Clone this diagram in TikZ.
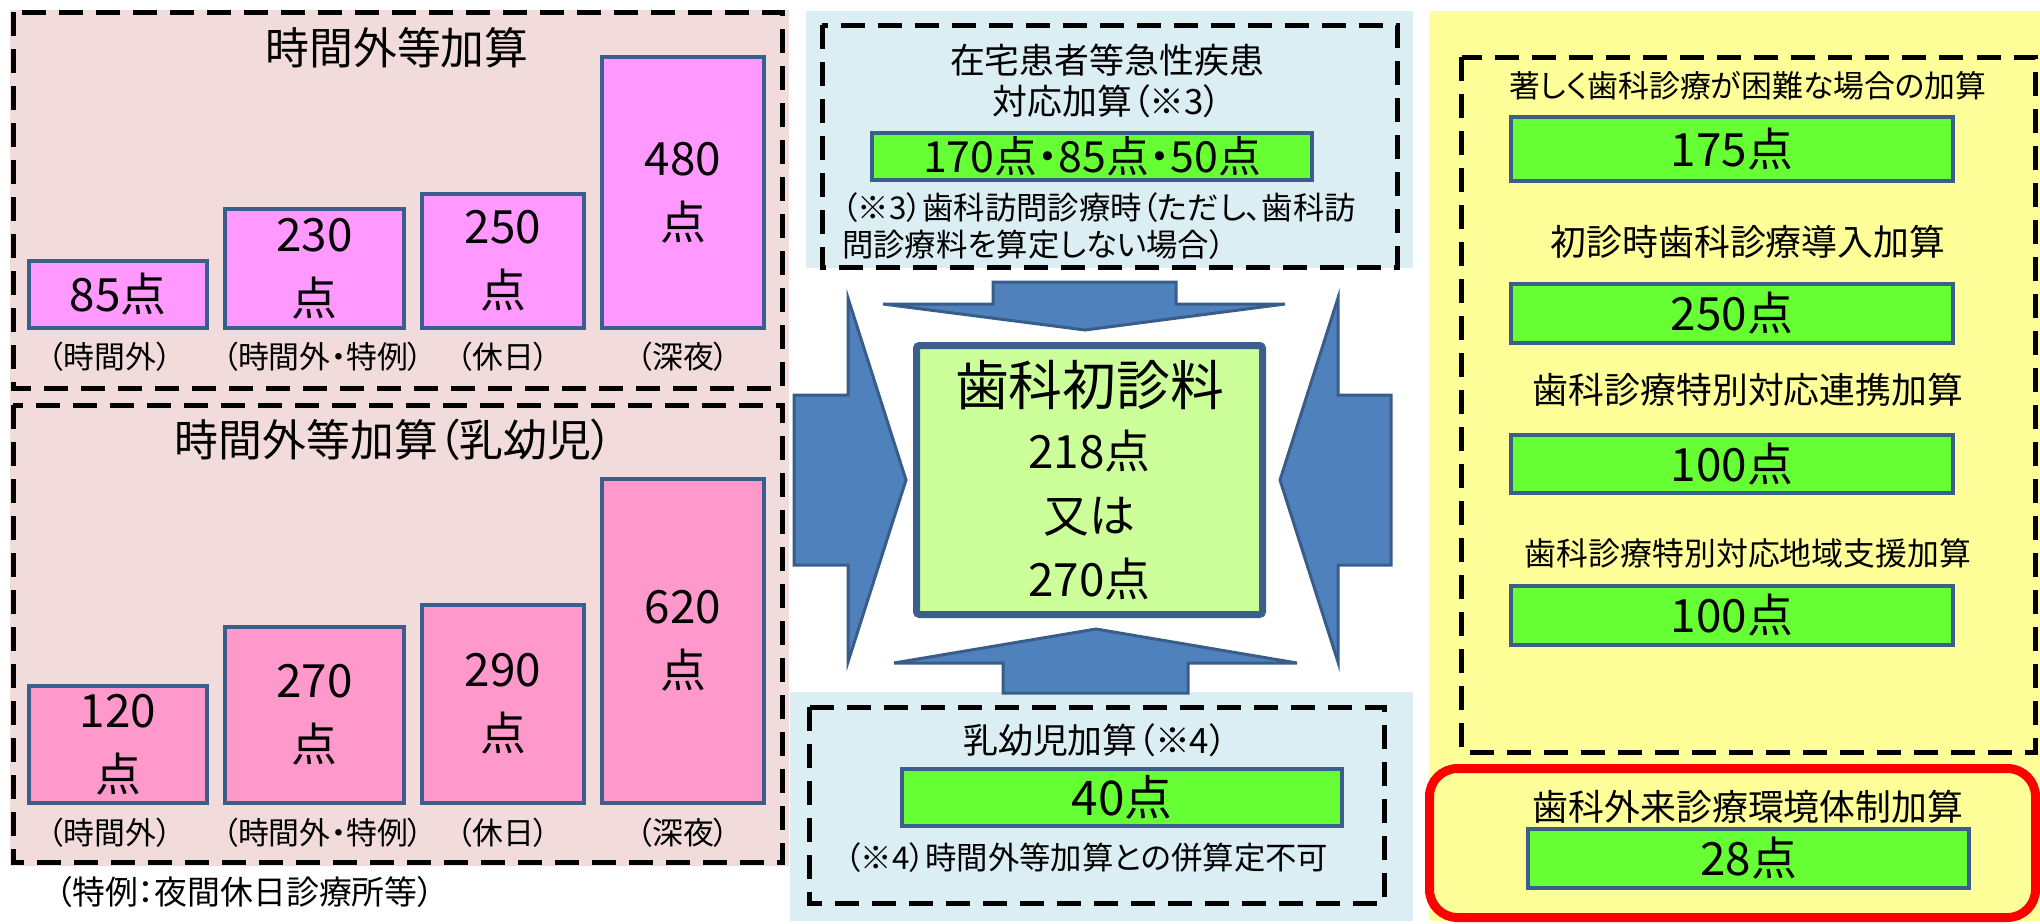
\documentclass[tikz,border=0pt]{standalone}
\usepackage{fontspec}
\setmainfont{Noto Sans CJK JP}[RawFeature=+palt]
\definecolor{pinkbg}{HTML}{F2DCDB}
\definecolor{pinkA}{HTML}{FF99FF}
\definecolor{pinkB}{HTML}{FF99CC}
\definecolor{bbord}{HTML}{3B5E8C}
\definecolor{lblue}{HTML}{DBEEF4}
\definecolor{lyellow}{HTML}{FFFF99}
\definecolor{vgreen}{HTML}{66FF33}
\definecolor{lgreen}{HTML}{CCFF99}
\definecolor{arrfill}{HTML}{4F81BD}
\definecolor{arrbord}{HTML}{385D8A}
\begin{document}
\begin{tikzpicture}[x=1bp,y=-1bp,
  dashbox/.style={draw=black, line width=5bp, dash pattern=on 24bp off 13bp},
  bar/.style={draw=bbord, line width=4.5bp, align=center, inner sep=0pt, font=\fontsize{46}{64}\selectfont},
  barA/.style={bar, fill=pinkA},
  barB/.style={bar, fill=pinkB},
  gbox/.style={draw=bbord, line width=4.5bp, fill=vgreen, inner sep=0pt, font=\fontsize{46}{56}\selectfont},
  lbl/.style={inner sep=0pt, font=\fontsize{31}{36}\selectfont},
  ttl/.style={inner sep=0pt, font=\fontsize{44}{52}\selectfont},
  mid/.style={inner sep=0pt, font=\fontsize{35}{42}\selectfont, align=center},
  rt/.style={inner sep=0pt, font=\fontsize{36}{42}\selectfont},
  note/.style={inner sep=0pt, font=\fontsize{31.5}{37}\selectfont, align=left, anchor=west},
  blockarrow/.style={fill=arrfill, draw=arrbord, line width=3bp, line join=miter}
]
\useasboundingbox (0,0) rectangle (2040,924);
% backgrounds
\fill[pinkbg] (10,10) rectangle (789,866);
\fill[lblue] (806,11) rectangle (1413,268);
\fill[lblue] (790,692) rectangle (1413,921);
\fill[lyellow] (1429,11) rectangle (2040,921);

% left panels
\draw[dashbox] (13,12) rectangle (782,388);
\draw[dashbox] (13,405) rectangle (782,862);
\node[ttl] (t1) at (397,48) {時間外等加算};
\node[ttl] (t2) at (394,440) {時間外等加算（乳幼児）};

\node[barA, minimum width=178bp, minimum height=67bp] (a1) at (118,294.5) {85点};
\node[barA, minimum width=179bp, minimum height=119bp] (a2) at (314.5,268.5) {230\\点};
\node[barA, minimum width=162bp, minimum height=134bp] (a3) at (503,261) {250\\点};
\node[barA, minimum width=162bp, minimum height=271bp] (a4) at (683,192.5) {480\\点};
\node[lbl] (la1) at (110,357) {（時間外）};
\node[lbl] (la2) at (323,357) {（時間外・特例）};
\node[lbl] (la3) at (503,357) {（休日）};
\node[lbl] (la4) at (683,357) {（深夜）};

\node[barB, minimum width=178bp, minimum height=117bp] (b1) at (118,744.5) {120\\点};
\node[barB, minimum width=179bp, minimum height=176bp] (b2) at (314.5,715) {270\\点};
\node[barB, minimum width=162bp, minimum height=198bp] (b3) at (503,704) {290\\点};
\node[barB, minimum width=162bp, minimum height=324bp] (b4) at (683,641) {620\\点};
\node[lbl] (lb1) at (110,833) {（時間外）};
\node[lbl] (lb2) at (323,833) {（時間外・特例）};
\node[lbl] (lb3) at (503,833) {（休日）};
\node[lbl] (lb4) at (683,833) {（深夜）};
\node[lbl, font=\fontsize{33}{38}\selectfont] (foot) at (245,892) {（特例：夜間休日診療所等）};

% center top panel
\draw[dashbox] (822,25) rectangle (1397,267);
\node[mid] (ct) at (1107,81) {在宅患者等急性疾患\\対応加算（※3）};
\node[gbox, font=\fontsize{43}{48}\selectfont, minimum width=440bp, minimum height=47bp] (g1) at (1092,156.5) {170点・85点・50点};
\node[note] (n3) at (842,226.5) {（※3）歯科訪問診療時（ただし、歯科訪\\問診療料を算定しない場合）};

% arrows
\path[blockarrow] (993,282) -- (1176,282) -- (1176,304) -- (1285,304) -- (1085,330) -- (883,304) -- (993,304) -- cycle;
\path[blockarrow] (1003,693) -- (1003,663) -- (894,663) -- (1096,629) -- (1297,663) -- (1188,663) -- (1188,693) -- cycle;
\path[blockarrow] (794,395) -- (848,395) -- (848,298) -- (906,480) -- (848,662) -- (848,565) -- (794,565) -- cycle;
\path[blockarrow] (1391,395) -- (1338,395) -- (1338,298) -- (1280,480) -- (1338,662) -- (1338,565) -- (1391,565) -- cycle;

% main box
\node[draw=bbord, line width=7bp, fill=lgreen, rounded corners=3bp, inner sep=0pt, align=center,
      minimum width=346bp, minimum height=269bp, font=\fontsize{46}{64}\selectfont] (main) at (1089.5,480)
  {{\fontsize{54}{64}\selectfont 歯科初診料}\\218点\\又は\\270点};

% center bottom panel
\draw[dashbox] (809,707) rectangle (1384,903);
\node[mid] (cb) at (1095,740) {乳幼児加算（※4）};
\node[gbox, font=\fontsize{48}{56}\selectfont, minimum width=440bp, minimum height=57bp] (g2) at (1122,797.5) {40点};
\node[note] (n4) at (845,858) {（※4）時間外等加算との併算定不可};

% right panel
\draw[dashbox] (1461.5,57) rectangle (2035,752);
\node[rt, font=\fontsize{31}{36}\selectfont] (r1t) at (1748,86) {著しく歯科診療が困難な場合の加算};
\node[gbox, minimum width=442bp, minimum height=64bp] (r1) at (1732,149) {175点};
\node[rt] (r2t) at (1748,242) {初診時歯科診療導入加算};
\node[gbox, minimum width=442bp, minimum height=59bp] (r2) at (1732,313.5) {250点};
\node[rt] (r3t) at (1748,390) {歯科診療特別対応連携加算};
\node[gbox, minimum width=442bp, minimum height=58bp] (r3) at (1732,464) {100点};
\node[rt, font=\fontsize{32}{38}\selectfont] (r4t) at (1748,553) {歯科診療特別対応地域支援加算};
\node[gbox, minimum width=442bp, minimum height=59bp] (r4) at (1732,615.5) {100点};

\draw[red, line width=9bp, rounded corners=28bp] (1429.5,768.5) rectangle (2035.5,917.5);
\node[rt] (r5t) at (1748,807) {歯科外来診療環境体制加算};
\node[gbox, minimum width=441bp, minimum height=59bp] (r5) at (1748.5,858.5) {28点};
\end{tikzpicture}
\end{document}
